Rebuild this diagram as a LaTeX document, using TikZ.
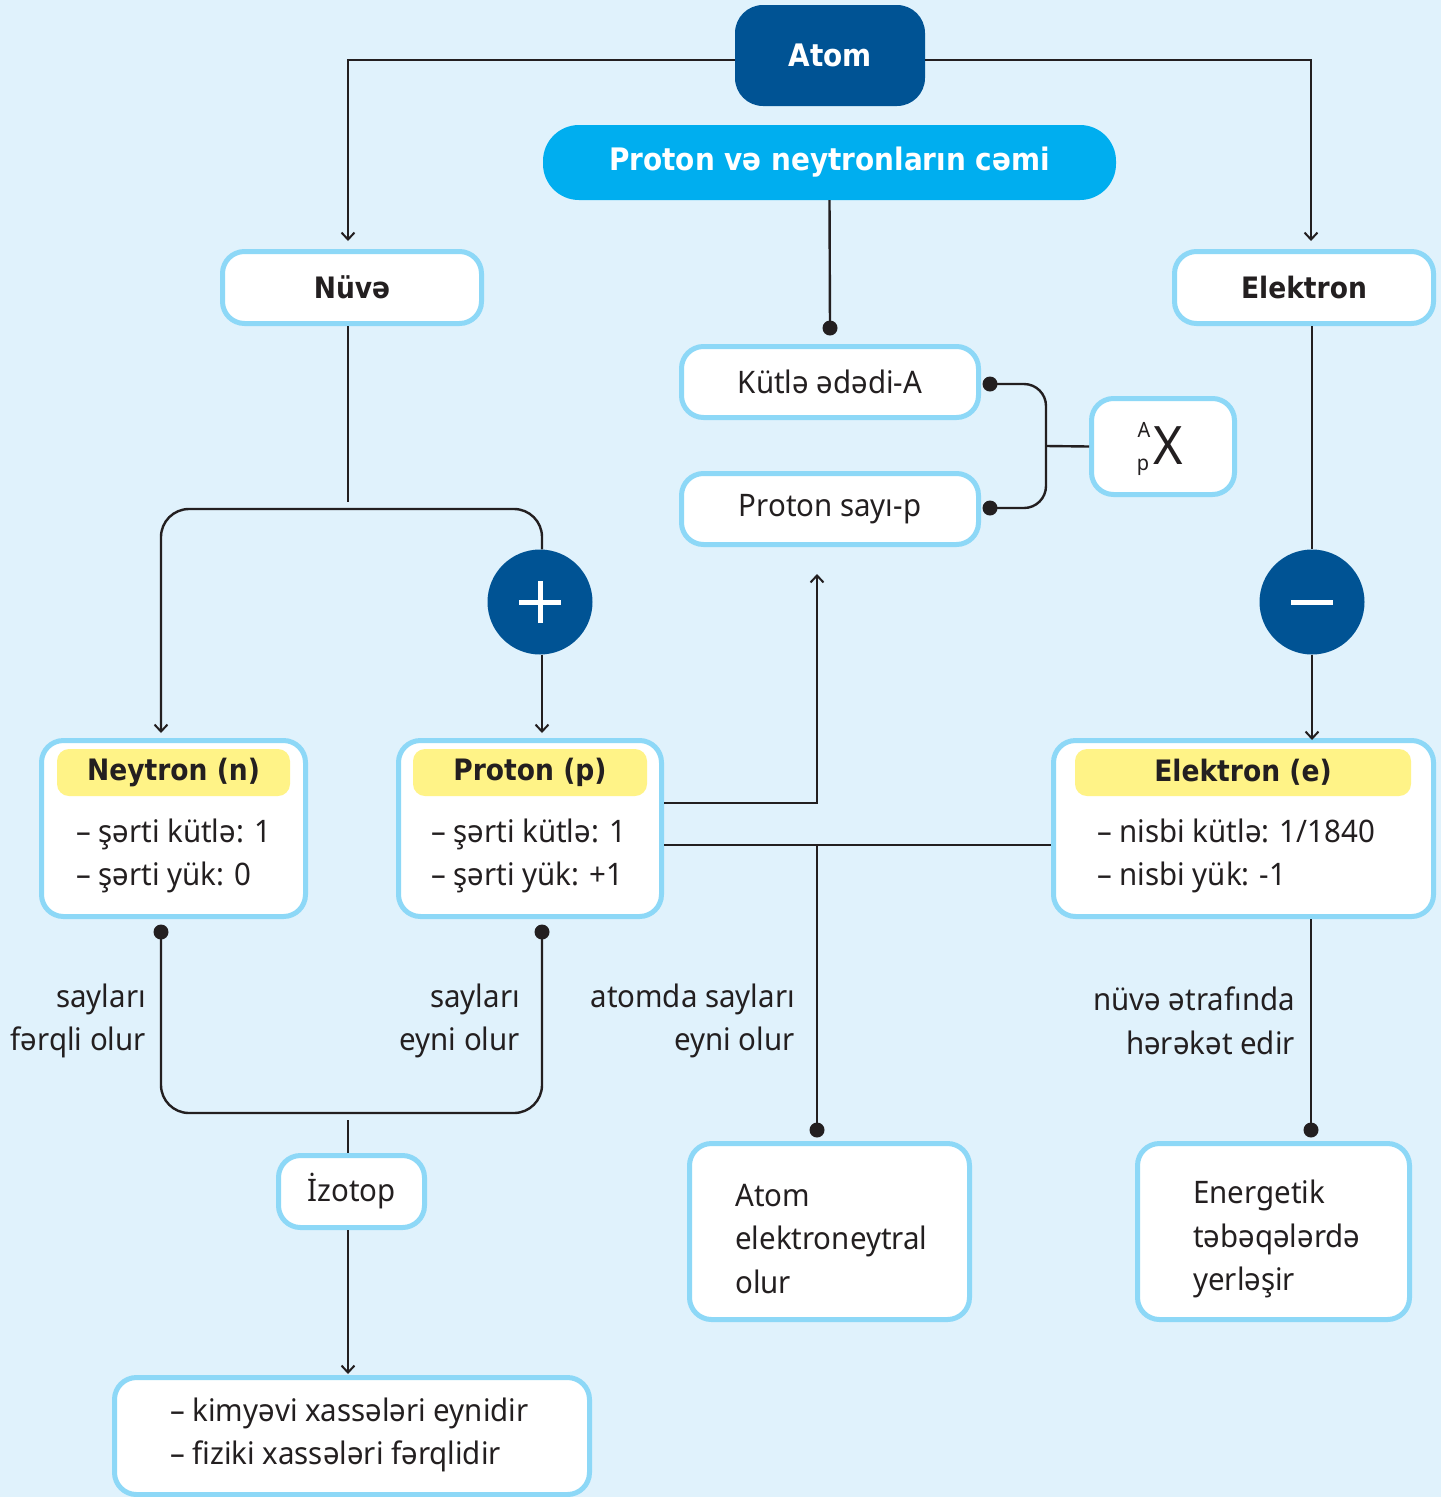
\documentclass[tikz,border=0pt]{standalone}
\usepackage{fontspec}
\setmainfont{Noto Sans}[FakeStretch=0.95]
\newfontfamily\boldfam{DejaVu Sans}[FakeStretch=0.9]
\usetikzlibrary{arrows.meta}
\definecolor{bg}{RGB}{224,242,252}
\definecolor{dblue}{RGB}{0,83,148}
\definecolor{cyanb}{RGB}{0,174,239}
\definecolor{bord}{RGB}{141,216,247}
\definecolor{yel}{RGB}{255,243,135}
\definecolor{ink}{RGB}{35,31,32}
\newcommand\fs{\fontsize{31}{43.5}\selectfont}
\newcommand\fh{\boldfam\bfseries\fontsize{29.5}{40}\selectfont}
\newcommand\ft{\boldfam\bfseries\fontsize{31}{40}\selectfont}
\begin{document}
\begin{tikzpicture}[x=1pt,y=-1pt,
  wbox/.style={draw=bord, line width=5pt, fill=white, rounded corners=22pt, inner sep=0pt, font=\fs, text=ink},
  ybar/.style={fill=yel, rounded corners=12pt, inner sep=0pt, font=\fh, text=ink},
  txt/.style={font=\fs, text=ink, inner sep=0pt},
  circ/.style={circle, fill=dblue, minimum size=105pt, inner sep=0pt},
  conn/.style={draw=ink, line width=2.4pt},
  arr/.style={conn, -{Straight Barb[length=7pt,width=13pt,line width=2pt]}},
  dot/.style={fill=ink}]
\useasboundingbox[fill=bg] (0,0) rectangle (1441,1497);

% top nodes
\node[fill=dblue, rounded corners=28pt, minimum width=190pt, minimum height=101pt, text=white, font=\ft] (atom) at (830,55.5) {Atom};
\node[fill=cyanb, rounded corners=36pt, minimum width=573pt, minimum height=75pt, text=white, font=\ft] (sum) at (829.5,162.5) {Proton və neytronların cəmi};
\node[wbox, minimum width=259pt, minimum height=72pt, font=\fh] (nuve) at (352,287.5) {Nüvə};
\node[wbox, minimum width=259pt, minimum height=72pt, font=\fh] (elek) at (1304,287.5) {Elektron};
\node[wbox, minimum width=297pt, minimum height=71pt] (kutle) at (830,382) {Kütlə ədədi-A};
\node[wbox, minimum width=297pt, minimum height=71pt] (psay) at (830,509) {Proton sayı-p};
\node[wbox, minimum width=143pt, minimum height=96pt] (ax) at (1163,446.5) {};
\node[txt, font=\fontsize{21}{21}\selectfont] (axA) at (1144,430) {A};
\node[txt, font=\fontsize{21}{21}\selectfont] (axp) at (1143,467) {p};
\node[txt, font=\fontsize{53}{53}\selectfont] (axX) at (1168,446) {X};

% circles
\node[circ] (plus) at (540,602) {};
\draw[white, line width=5pt] ([xshift=-21pt]plus.center) -- ([xshift=21pt]plus.center) ([yshift=-21pt]plus.center) -- ([yshift=21pt]plus.center);
\node[circ] (minus) at (1312,602) {};
\draw[white, line width=5pt] ([xshift=-21pt]minus.center) -- ([xshift=21pt]minus.center);

% particle boxes
\node[wbox, minimum width=264pt, minimum height=176pt] (neyt) at (173.5,828.5) {};
\node[ybar, minimum width=233pt, minimum height=47pt] (neytH) at (173.5,772.5) {Neytron (n)};
\node[txt, anchor=west, align=left] (neytT) at (76,856) {– şərti kütlə: 1\\– şərti yük: 0};

\node[wbox, minimum width=263pt, minimum height=176pt] (prot) at (530,828.5) {};
\node[ybar, minimum width=234pt, minimum height=47pt] (protH) at (530,772.5) {Proton (p)};
\node[txt, anchor=west, align=left] (protT) at (431,856) {– şərti kütlə: 1\\– şərti yük: +1};

\node[wbox, minimum width=380pt, minimum height=176pt] (elec) at (1243.5,828.5) {};
\node[ybar, minimum width=336pt, minimum height=47pt] (elecH) at (1243,772.5) {Elektron (e)};
\node[txt, anchor=west, align=left] (elecT) at (1097,856) {– nisbi kütlə: 1/1840\\– nisbi yük: -1};

% lower boxes
\node[wbox, minimum width=280pt, minimum height=176pt] (neut) at (829.5,1231.5) {};
\node[txt, anchor=west, align=left] (neutT) at (735,1239) {Atom\\elektroneytral\\olur};
\node[wbox, minimum width=272pt, minimum height=176pt] (ener) at (1273.5,1231.5) {};
\node[txt, anchor=west, align=left] (enerT) at (1193,1239) {Energetik\\təbəqələrdə\\yerləşir};
\node[wbox, minimum width=146pt, minimum height=72pt] (izo) at (351.5,1191.5) {İzotop};
\node[wbox, minimum width=475pt, minimum height=117pt] (bot) at (352,1436) {};
\node[txt, anchor=west, align=left] (botT) at (170,1435) {– kimyəvi xassələri eynidir\\– fiziki xassələri fərqlidir};

% labels
\node[txt, anchor=east, align=right] (l1) at (146,1021) {sayları\\fərqli olur};
\node[txt, anchor=east, align=right] (l2) at (520,1021) {sayları\\eyni olur};
\node[txt, anchor=east, align=right] (l3) at (795,1021) {atomda sayları\\eyni olur};
\node[txt, anchor=east, align=right] (l4) at (1295,1021) {nüvə ətrafında\\hərəkət edir};

% connectors
\draw[arr] (atom.west |- 0,60) -| (348,241);
\draw[arr] (atom.east |- 0,60) -| (1311,241);
\draw[conn] (sum.south) -- (830,328);
\fill[dot] (830,328) circle (7.5pt);

\coordinate (kd) at (990,384);
\coordinate (pd) at (990,508);
\draw[conn, rounded corners=22pt] (kd) -- (1046,384) -- (1046,508) -- (pd);
\fill[dot] (kd) circle (7.5pt);
\fill[dot] (pd) circle (7.5pt);
\draw[conn] (1046,446) -- (ax.west);

\draw[conn] (348,326) -- (348,502);
\draw[arr, rounded corners=28pt] (542,0 |- plus.north) -- (542,509) -- (161,509) -- (161,733);
\draw[arr] (542,0 |- plus.south) -- (542,733);

\draw[conn] (1312,0 |- elek.south) -- (minus.north);
\draw[arr] (minus.south) -- (1312,740);

\draw[arr] (prot.east |- 0,803) -- (817,803) -- (817,574);
\draw[conn] (prot.east |- 0,845) -- (elec.west |- 0,845);
\draw[conn] (817,845) -- (817,1130);
\fill[dot] (817,1130) circle (7.5pt);
\draw[conn] (1311,0 |- elec.south) -- (1311,1130);
\fill[dot] (1311,1130) circle (7.5pt);

\draw[conn, rounded corners=28pt] (161,932) -- (161,1113) -- (542,1113) -- (542,932);
\fill[dot] (161,932) circle (7.5pt);
\fill[dot] (542,932) circle (7.5pt);
\draw[conn] (348,1120) -- (348,0 |- izo.north);
\draw[arr] (348,0 |- izo.south) -- (348,1374);
\end{tikzpicture}
\end{document}
